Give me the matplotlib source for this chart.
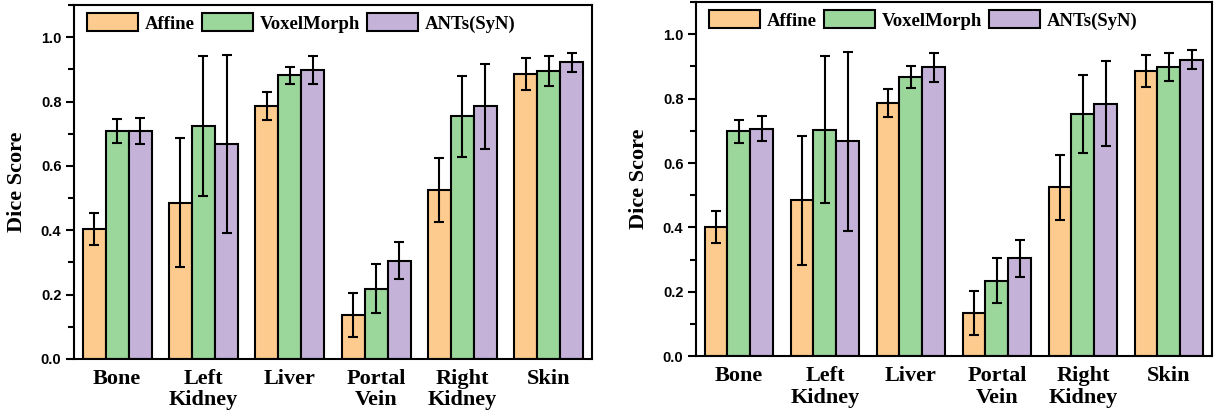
import numpy as np
import matplotlib
matplotlib.use('Agg')
import matplotlib.pyplot as plt
from matplotlib.ticker import MultipleLocator, FormatStrFormatter

categories = ['Bone', 'Left\nKidney', 'Liver', 'Portal\nVein', 'Right\nKidney', 'Skin']
methods = ['Affine', 'VoxelMorph', 'ANTs(SyN)']
colors = ['#FECB8E', '#9BD69B', '#C5B2D9']

# left panel: mean and std of Dice per structure
affine_a = [0.403, 0.486, 0.786, 0.137, 0.525, 0.886]
affine_a_err = [0.050, 0.201, 0.044, 0.068, 0.100, 0.050]
voxelmorph_a = [0.708, 0.724, 0.881, 0.219, 0.754, 0.894]
voxelmorph_a_err = [0.038, 0.217, 0.027, 0.076, 0.125, 0.046]
ants_a = [0.708, 0.667, 0.898, 0.305, 0.786, 0.922]
ants_a_err = [0.040, 0.277, 0.045, 0.058, 0.132, 0.029]

# right panel
affine_b = [0.402, 0.484, 0.786, 0.135, 0.525, 0.885]
affine_b_err = [0.050, 0.200, 0.044, 0.068, 0.101, 0.050]
voxelmorph_b = [0.698, 0.703, 0.867, 0.235, 0.752, 0.899]
voxelmorph_b_err = [0.037, 0.228, 0.035, 0.070, 0.120, 0.044]
ants_b = [0.707, 0.667, 0.897, 0.304, 0.784, 0.921]
ants_b_err = [0.040, 0.278, 0.045, 0.058, 0.132, 0.030]

serif = 'Liberation Serif'
sans = 'Liberation Sans'


def plot_dice(ax, means, errs):
    x = np.arange(len(categories))
    width = 0.8 / len(methods)
    for i, (m, e) in enumerate(zip(means, errs)):
        ax.bar(x + (i - 1) * width, m, width, yerr=e, color=colors[i],
               edgecolor='black', linewidth=1.5, label=methods[i],
               error_kw=dict(ecolor='black', elinewidth=1.5, capsize=3.5, capthick=1.5))
    ax.set_xlim(-0.5, len(categories) - 0.5)
    ax.set_ylim(0, 1.1)
    ax.yaxis.set_major_locator(MultipleLocator(0.2))
    ax.yaxis.set_minor_locator(MultipleLocator(0.1))
    ax.yaxis.set_major_formatter(FormatStrFormatter('%.1f'))
    ax.set_xticks(x)
    ax.set_xticklabels(categories, fontfamily=serif, fontweight='bold',
                       fontsize=16, linespacing=1.1)
    ax.tick_params(axis='x', length=0, pad=7)
    ax.tick_params(axis='y', which='major', direction='out', length=6, width=1.5,
                   labelsize=10.5, pad=3)
    ax.tick_params(axis='y', which='minor', direction='out', length=4, width=1.5)
    for lbl in ax.get_yticklabels():
        lbl.set_fontfamily(sans)
        lbl.set_fontweight('bold')
    for s in ax.spines.values():
        s.set_linewidth(1.5)
    ax.set_ylabel('Dice Score', fontfamily=serif, fontweight='bold', fontsize=16,
                  labelpad=10)
    ax.legend(loc='upper left', bbox_to_anchor=(0.025, 0.977), ncol=3, frameon=False,
              borderpad=0, borderaxespad=0, handlelength=2.72, handleheight=1.12,
              handletextpad=0.37, columnspacing=0.37,
              prop=dict(family=serif, weight='bold', size=13.5))


fig = plt.figure(figsize=(12.15, 4.13), dpi=100)
ax1 = fig.add_axes([0.0609, 0.1308, 0.4263, 0.8571])
ax2 = fig.add_axes([0.5728, 0.1373, 0.4247, 0.8578])
plot_dice(ax1, [affine_a, voxelmorph_a, ants_a], [affine_a_err, voxelmorph_a_err, ants_a_err])
plot_dice(ax2, [affine_b, voxelmorph_b, ants_b], [affine_b_err, voxelmorph_b_err, ants_b_err])
fig.savefig('out.png', dpi=100)
